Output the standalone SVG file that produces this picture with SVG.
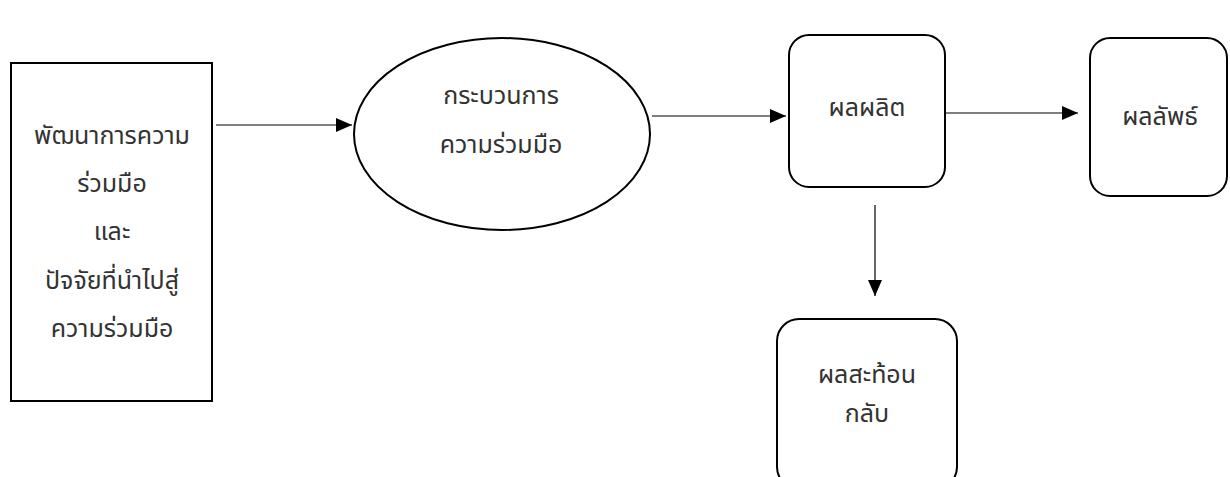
<svg xmlns="http://www.w3.org/2000/svg" width="1230" height="477" viewBox="0 0 1230 477">
<defs>
<marker id="ah" markerWidth="16" markerHeight="14" refX="16" refY="7" orient="auto" markerUnits="userSpaceOnUse">
<path d="M0,0 L16,7 L0,14 Z" fill="#000"/>
</marker>
<style>
.shape{fill:#fff;stroke:#000;stroke-width:2}
.t{font-family:"Noto Sans Thai","Leelawadee UI","DejaVu Sans","Noto Sans",sans-serif;font-size:25px;fill:#333;text-anchor:middle}
.c{stroke:#000;stroke-width:1.2;fill:none}
</style>
</defs>
<rect width="1230" height="477" fill="#fff"/>
<g id="connectors">
<line class="c" x1="216" y1="125" x2="352" y2="125" marker-end="url(#ah)"/>
<line class="c" x1="652" y1="116" x2="786" y2="116" marker-end="url(#ah)"/>
<line class="c" x1="945" y1="113" x2="1078" y2="113" marker-end="url(#ah)"/>
<line class="c" x1="875" y1="205" x2="875" y2="296" marker-end="url(#ah)"/>
</g>
<g id="node-dev">
<rect class="shape" x="11" y="63" width="201" height="338" stroke-width="2.5"/>
<text class="t" x="112" y="144">พัฒนาการความ</text>
<text class="t" x="112" y="192">ร่วมมือ</text>
<text class="t" x="112" y="240">และ</text>
<text class="t" x="112" y="289">ปัจจัยที่นำไปสู่</text>
<text class="t" x="112" y="337">ความร่วมมือ</text>
</g>
<g id="node-process">
<ellipse class="shape" cx="502" cy="134" rx="148" ry="96"/>
<text class="t" x="501" y="104">กระบวนการ</text>
<text class="t" x="501" y="153">ความร่วมมือ</text>
</g>
<g id="node-output">
<rect class="shape" x="789" y="35" width="156" height="152" rx="20"/>
<text class="t" x="867" y="116">ผลผลิต</text>
</g>
<g id="node-outcome">
<rect class="shape" x="1090" y="38" width="137" height="158" rx="20"/>
<text class="t" x="1160" y="125">ผลลัพธ์</text>
</g>
<g id="node-feedback">
<rect class="shape" x="777" y="319" width="180" height="170" rx="22"/>
<text class="t" x="867" y="383">ผลสะท้อน</text>
<text class="t" x="867" y="422">กลับ</text>
</g>
</svg>
